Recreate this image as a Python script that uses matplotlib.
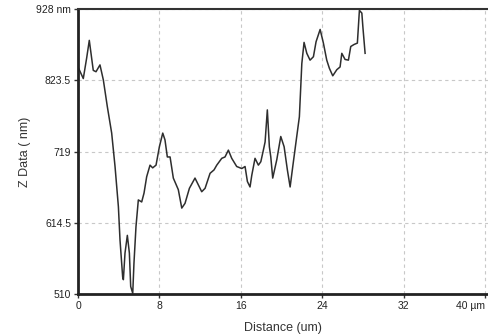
import matplotlib
matplotlib.use("Agg")
import matplotlib.pyplot as plt

# Line profile across the scan: distance (um) vs height (nm)
distance = [0.0, 0.52, 0.85, 1.11, 1.5, 1.77, 2.16, 2.49, 2.88, 3.31, 3.64, 3.97,
            4.13, 4.39, 4.46, 4.62, 4.85, 5.05, 5.18, 5.38, 5.5, 5.7, 5.93, 6.26,
            6.49, 6.75, 7.08, 7.34, 7.67, 8.0, 8.33, 8.55, 8.78, 9.05, 9.37, 9.86,
            10.2, 10.52, 10.95, 11.5, 11.83, 12.16, 12.49, 12.98, 13.37, 13.64,
            14.13, 14.45, 14.78, 15.11, 15.6, 16.1, 16.42, 16.65, 16.91, 17.08,
            17.4, 17.73, 17.97, 18.22, 18.39, 18.61, 18.81, 18.95, 19.14, 19.54,
            19.93, 20.26, 20.58, 20.85, 21.11, 21.5, 21.76, 22.0, 22.22, 22.49,
            22.81, 23.14, 23.4, 23.8, 24.12, 24.45, 24.71, 25.04, 25.44, 25.76,
            25.93, 26.25, 26.58, 26.81, 27.14, 27.46, 27.66, 27.9, 28.0, 28.22]
z_nm = [843, 826, 856, 882, 838, 836, 846, 824, 785, 746, 697, 638,
        589, 535, 531, 570, 596, 570, 521, 511, 555, 609, 648, 645,
        658, 682, 699, 695, 699, 726, 746, 736, 711, 711, 680, 663,
        636, 643, 665, 680, 670, 660, 665, 687, 692, 699,
        709, 711, 721, 709, 697, 694, 697, 675, 667, 684,
        709, 699, 704, 721, 733, 780, 726, 711, 680, 707,
        741, 726, 692, 667, 697, 741, 770, 848, 879, 863,
        853, 858, 880, 898, 878, 853, 841, 830, 839, 843,
        863, 854, 853, 873, 876, 878, 926, 922, 902, 863]

x_ticks = [0, 8, 16, 24, 32, 40]
x_labels = ["0", "8", "16", "24", "32", "40 \u00b5m"]
y_ticks = [510, 614.5, 719, 823.5, 928]
y_labels = ["510", "614.5", "719", "823.5", "928 nm"]

plt.rcParams["font.family"] = ["Liberation Sans", "DejaVu Sans"]

fig = plt.figure(figsize=(4.88, 3.35), dpi=100)
ax = fig.add_axes([78 / 488, 1 - 294 / 335, 1 - 78 / 488, 285 / 335])

ax.plot(distance, z_nm, color="#2e2e2e", linewidth=1.1)

ax.set_xlim(0, 40.3)
ax.set_ylim(510, 928)
ax.set_xticks(x_ticks)
ax.set_xticklabels(x_labels)
ax.set_yticks(y_ticks)
ax.set_yticklabels(y_labels)
ax.tick_params(labelsize=7.5, length=3, width=1, color="#333333",
               labelcolor="#222222", pad=2)
# last distance label sits against the right edge
ax.get_xticklabels()[-1].set_horizontalalignment("right")

ax.grid(True, linestyle=(0, (3, 3)), color="#c8c8c8", linewidth=0.8)

for side in ("left", "bottom"):
    ax.spines[side].set_linewidth(2)
    ax.spines[side].set_color("#222222")
ax.spines["top"].set_linewidth(1.5)
ax.spines["top"].set_color("#333333")
ax.spines["right"].set_visible(False)

ax.set_ylabel("Z Data ( nm)", fontsize=9, color="#333333", labelpad=4)
ax.set_xlabel("Distance (um)", fontsize=9, color="#333333", labelpad=8)

fig.savefig("out.png", dpi=100)
